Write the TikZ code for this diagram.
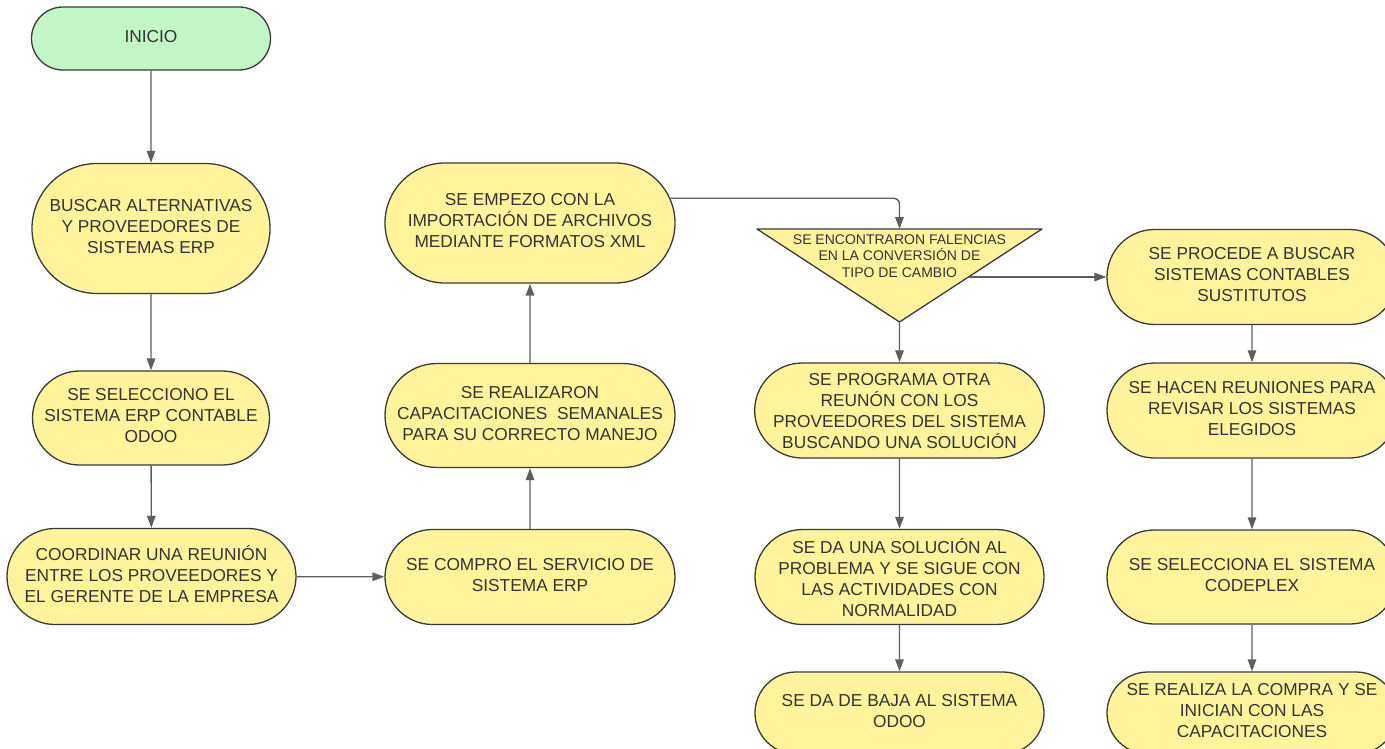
\documentclass[tikz,border=0pt]{standalone}
\usepackage{fontspec}
\setmainfont{Liberation Sans}
\usetikzlibrary{shapes.misc,arrows.meta}
\definecolor{yel}{HTML}{FFF49C}
\definecolor{grn}{HTML}{C2F5C8}
\definecolor{txt}{HTML}{333333}
\definecolor{edgec}{HTML}{3A3A3A}
\definecolor{arrc}{HTML}{5E5E5E}
\begin{document}
\begin{tikzpicture}[x=1pt,y=-1pt,
  box/.style={rounded rectangle, draw=edgec, line width=1.3pt, fill=yel, text=txt,
    align=center, inner sep=0pt, text depth=4.5pt, font=\fontsize{17.3}{21}\selectfont},
  arr/.style={draw=arrc, line width=1.4pt, -{Triangle[length=12pt,width=8.5pt]}}]
\useasboundingbox (0,0) rectangle (1385,749);

% left column
\node[box, fill=grn, minimum width=239pt, minimum height=63pt] (inicio) at (151,38.5) {INICIO};
\node[box, minimum width=238pt, minimum height=130pt] (buscar) at (151,228.5) {BUSCAR ALTERNATIVAS\\Y PROVEEDORES DE\\SISTEMAS ERP};
\node[box, minimum width=237pt, minimum height=94pt] (selecc) at (151,418) {SE SELECCIONO EL\\SISTEMA ERP CONTABLE\\ODOO};
\node[box, minimum width=289pt, minimum height=96pt] (coord) at (151.5,576.5) {COORDINAR UNA REUNIÓN\\ENTRE LOS PROVEEDORES Y\\EL GERENTE DE LA EMPRESA};

% second column
\node[box, minimum width=290pt, minimum height=95pt] (compro) at (530,577) {SE COMPRO EL SERVICIO DE\\SISTEMA ERP};
\node[box, minimum width=290pt, minimum height=104pt] (realiz) at (530,415.5) {SE REALIZARON\\CAPACITACIONES\ \ SEMANALES\\PARA SU CORRECTO MANEJO};
\node[box, minimum width=290pt, minimum height=120pt] (empezo) at (530,223) {SE EMPEZO CON LA\\IMPORTACIÓN DE ARCHIVOS\\MEDIANTE FORMATOS XML};

% triangle
\coordinate (tl) at (757,229);
\coordinate (tr) at (1042,229);
\coordinate (tap) at (899.5,322);
\coordinate (tritop) at (899.5,229);
\coordinate (trie) at (969,277);
\filldraw[fill=yel, draw=edgec, line width=1.3pt, line join=round] (tl) -- (tr) -- (tap) -- cycle;
\node[font=\fontsize{14}{16.5}\selectfont, text=txt, align=center, inner sep=0pt] (tri) at (899.5,256) {SE ENCONTRARON FALENCIAS\\EN LA CONVERSIÓN DE\\TIPO DE CAMBIO};

% third column
\node[box, text depth=0pt, minimum width=289pt, minimum height=95pt] (programa) at (899.5,410.5) {SE PROGRAMA OTRA\\REUNÓN CON LOS\\PROVEEDORES DEL SISTEMA\\BUSCANDO UNA SOLUCIÓN};
\node[box, text depth=0pt, minimum width=289pt, minimum height=95pt] (solucion) at (899.5,577) {SE DA UNA SOLUCIÓN AL\\PROBLEMA Y SE SIGUE CON\\LAS ACTIVIDADES CON\\NORMALIDAD};
\node[box, minimum width=289pt, minimum height=82pt] (baja) at (899.5,713) {SE DA DE BAJA AL SISTEMA\\ODOO};

% fourth column
\node[box, minimum width=290pt, minimum height=95pt] (procede) at (1252,277) {SE PROCEDE A BUSCAR\\SISTEMAS CONTABLES\\SUSTITUTOS};
\node[box, minimum width=290pt, minimum height=95pt] (hacen) at (1252,410.5) {SE HACEN REUNIONES PARA\\REVISAR LOS SISTEMAS\\ELEGIDOS};
\node[box, minimum width=290pt, minimum height=94pt] (codeplex) at (1252,577) {SE SELECCIONA EL SISTEMA\\CODEPLEX};
\node[box, minimum width=290pt, minimum height=82pt] (compra) at (1252,713) {SE REALIZA LA COMPRA Y SE\\INICIAN CON LAS\\CAPACITACIONES};

% connectors
\draw[arr] (inicio) -- (buscar);
\draw[arr] (buscar) -- (selecc);
\draw[arr] (selecc) -- (coord);
\draw[arr] (coord) -- (compro);
\draw[arr] (compro) -- (realiz);
\draw[arr] (realiz) -- (empezo);
\draw[arr, rounded corners=6pt] (empezo.10.6) -| (tritop);
\draw[arr] (trie) -- (procede);
\draw[arr] (tap) -- (programa);
\draw[arr] (programa) -- (solucion);
\draw[arr] (solucion) -- (baja);
\draw[arr] (procede) -- (hacen);
\draw[arr] (hacen) -- (codeplex);
\draw[arr] (codeplex) -- (compra);
\end{tikzpicture}
\end{document}
